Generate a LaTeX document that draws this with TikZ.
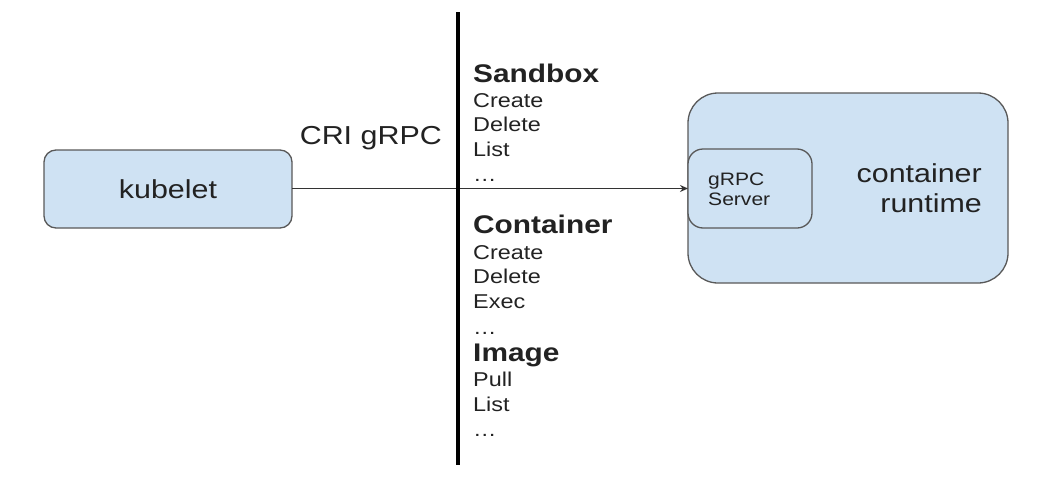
\documentclass[tikz,border=0pt]{standalone}
\usepackage{fontspec}
\usepackage{graphicx}
\setmainfont{Liberation Sans}
\usetikzlibrary{arrows.meta}
\definecolor{boxfill}{HTML}{CFE2F3}
\definecolor{boxline}{HTML}{595959}
\definecolor{txt}{HTML}{222222}
\newcommand{\hs}[1]{\scalebox{1.17}[1]{#1}}
\tikzset{
  rbox/.style={draw=boxline, fill=boxfill, line width=1.3pt},
  lbl/.style={inner sep=0pt, text=txt},
  big/.style={lbl, font=\fontsize{26}{30}\selectfont},
  head/.style={lbl, anchor=base west, font=\fontsize{25.5}{30}\selectfont\bfseries},
  item/.style={lbl, anchor=base west, font=\fontsize{20}{24}\selectfont},
  small/.style={lbl, anchor=base west, font=\fontsize{18}{22}\selectfont},
}
\begin{document}
\begin{tikzpicture}[x=1pt, y=-1pt]
\useasboundingbox (0,0) rectangle (1046,490);
% kubelet
\draw[rbox, rounded corners=12pt] (44,150) rectangle (292,228);
\node[big] (kubelet) at (168,189) {\hs{kubelet}};
\coordinate (kubE) at (292,188.5);
% container runtime
\draw[rbox, rounded corners=30pt] (688,93) rectangle (1008,283);
\draw[rbox, rounded corners=15pt] (688,149) rectangle (812,228);
\coordinate (grpcW) at (688,188.5);
\node[small] (g1) at (708,185) {\hs{gRPC}};
\node[small] (g2) at (708,205) {\hs{Server}};
\node[big, anchor=base east] (c1) at (982,182.7) {\hs{container}};
\node[big, anchor=base east] (c2) at (982,212.7) {\hs{runtime}};
% CRI label
\node[big, anchor=base east] (cri) at (442,144) {\hs{CRI gRPC}};
% arrow
\draw[line width=1.3pt, draw=black!80, -{Stealth[length=8pt,width=7pt]}] (kubE) -- (grpcW);
% vertical bar
\coordinate (vtop) at (458,12);
\coordinate (vbot) at (458,465);
\draw[line width=4pt, black] (vtop) -- (vbot);
% lists
\node[head] (sb) at (473,82.7) {\hs{Sandbox}};
\node[item] (sb1) at (473,107) {\hs{Create}};
\node[item] (sb2) at (473,131.7) {\hs{Delete}};
\node[item] (sb3) at (473,156.5) {\hs{List}};
\node[item] (sb4) at (473,181) {\hs{…}};
\node[head] (ct) at (473,233) {\hs{Container}};
\node[item] (ct1) at (473,259) {\hs{Create}};
\node[item] (ct2) at (473,283.5) {\hs{Delete}};
\node[item] (ct3) at (473,308) {\hs{Exec}};
\node[item] (ct4) at (473,334) {\hs{…}};
\node[head] (im) at (473,361.7) {\hs{Image}};
\node[item] (im1) at (473,386.7) {\hs{Pull}};
\node[item] (im2) at (473,411.5) {\hs{List}};
\node[item] (im3) at (473,436) {\hs{…}};
\end{tikzpicture}
\end{document}
